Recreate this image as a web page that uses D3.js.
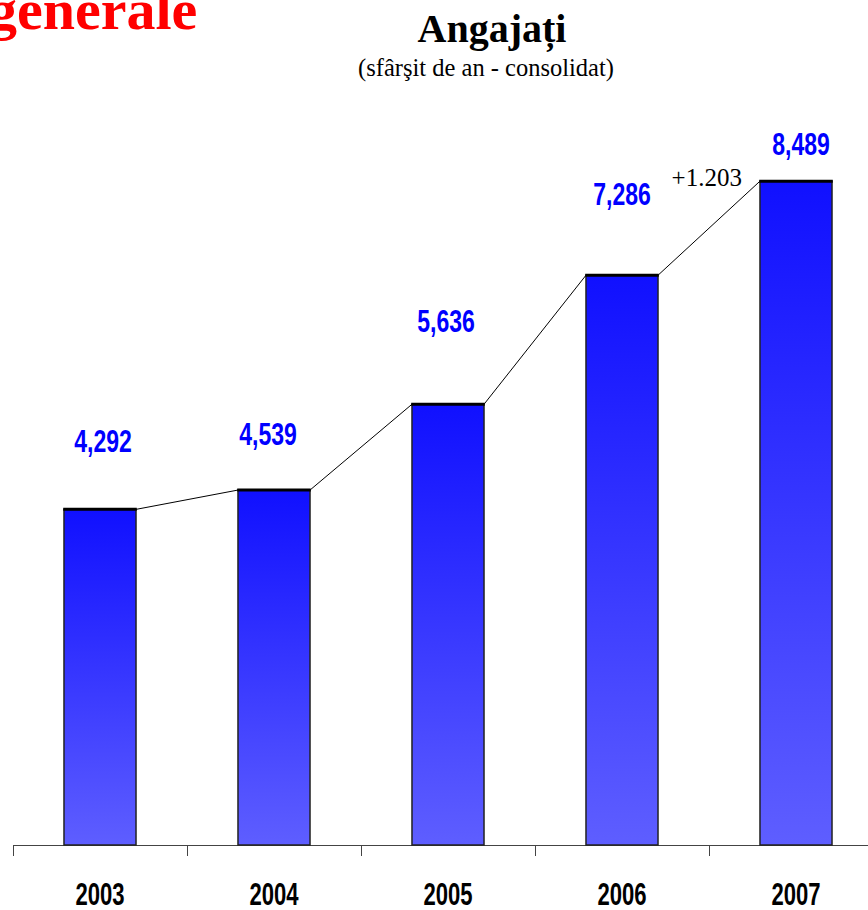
<!DOCTYPE html>
<html>
<head>
  <meta charset="utf-8">
  <title>Angajati</title>
  <style>
    body { margin: 0; background: #fff; overflow: hidden; }
    .narrow { font-family: "Liberation Sans Narrow", "Arial Narrow", "Liberation Sans", Arial, sans-serif; font-weight: bold; }
    .serif { font-family: "Liberation Serif", "Times New Roman", serif; }
  </style>
</head>
<body>
<svg id="chart" width="868" height="910"></svg>
<script src="https://cdn.jsdelivr.net/npm/d3@7"></script>
<script>
// data
var years = ["2003", "2004", "2005", "2006", "2007"];
var employees = [4292, 4539, 5636, 7286, 8489];
var valueLabels = ["4,292", "4,539", "5,636", "7,286", "8,489"];

// labels were placed by hand in the original, so nudge them the same way
var labelLift = [57, 45, 72, 70, 26];
var labelShift = [3, -6, -2, 0, 5];
var squeeze = 0.72; // no narrow font installed, so squash the sans one

var svg = d3.select("#chart");

var defs = svg.append("defs");
var grad = defs.append("linearGradient")
    .attr("id", "barFill")
    .attr("x1", 0).attr("y1", 0).attr("x2", 0).attr("y2", 1);
grad.append("stop").attr("offset", "0%").attr("stop-color", "#1010ff");
grad.append("stop").attr("offset", "100%").attr("stop-color", "#5e5eff");

var x = d3.scaleBand().domain(years).range([13, 883])
    .paddingInner(0.586).paddingOuter(0.293);
var y = d3.scaleLinear().domain([0, 10000]).range([845, 63]);

// headings
svg.append("text").attr("class", "serif")
    .attr("x", -12).attr("y", 29)
    .attr("font-size", 58).attr("font-weight", "bold").attr("fill", "#ff0000")
    .text("generale");
svg.append("text").attr("class", "serif")
    .attr("x", 492).attr("y", 42).attr("text-anchor", "middle")
    .attr("font-size", 40).attr("font-weight", "bold").attr("fill", "#000")
    .text("Angajați");
svg.append("text").attr("class", "serif")
    .attr("x", 486).attr("y", 76).attr("text-anchor", "middle")
    .attr("font-size", 24.5).attr("fill", "#000")
    .text("(sfârşit de an - consolidat)");

// x axis: baseline and ticks on band boundaries
var axisY = y(0);
svg.append("line")
    .attr("x1", 13).attr("x2", 868).attr("y1", axisY + 0.5).attr("y2", axisY + 0.5)
    .attr("stroke", "#444").attr("stroke-width", 1);
svg.selectAll(".tick").data(d3.range(years.length + 1)).enter().append("line")
    .attr("class", "tick")
    .attr("x1", function(i) { return 13 + i * x.step() + 0.5; })
    .attr("x2", function(i) { return 13 + i * x.step() + 0.5; })
    .attr("y1", axisY).attr("y2", axisY + 11)
    .attr("stroke", "#444").attr("stroke-width", 1);

var rows = years.map(function(yr, i) { return {year: yr, v: employees[i], label: valueLabels[i], i: i}; });

// bars
svg.selectAll(".bar").data(rows).enter().append("rect")
    .attr("class", "bar")
    .attr("x", function(d) { return x(d.year); })
    .attr("y", function(d) { return y(d.v); })
    .attr("width", x.bandwidth())
    .attr("height", function(d) { return axisY - y(d.v); })
    .attr("fill", "url(#barFill)")
    .attr("stroke", "#222").attr("stroke-width", 1.5);

// connecting line through the bar tops
var pts = [];
rows.forEach(function(d) {
  pts.push([x(d.year), y(d.v)]);
  pts.push([x(d.year) + x.bandwidth(), y(d.v)]);
});
svg.append("path")
    .attr("d", d3.line()(pts))
    .attr("fill", "none").attr("stroke", "#000").attr("stroke-width", 1);

// thick top edges
svg.selectAll(".top").data(rows).enter().append("line")
    .attr("class", "top")
    .attr("x1", function(d) { return x(d.year) - 0.75; })
    .attr("x2", function(d) { return x(d.year) + x.bandwidth() + 0.75; })
    .attr("y1", function(d) { return y(d.v); })
    .attr("y2", function(d) { return y(d.v); })
    .attr("stroke", "#000").attr("stroke-width", 3);

// value labels
svg.selectAll(".val").data(rows).enter().append("text")
    .attr("class", "val narrow")
    .attr("transform", function(d) {
      var cx = x(d.year) + x.bandwidth() / 2 + labelShift[d.i];
      var cy = y(d.v) - labelLift[d.i];
      return "translate(" + cx + "," + cy + ") scale(" + squeeze + ",1)";
    })
    .attr("text-anchor", "middle")
    .attr("font-size", 32).attr("fill", "#0000ff")
    .text(function(d) { return d.label; });

// year labels
svg.selectAll(".yr").data(rows).enter().append("text")
    .attr("class", "yr narrow")
    .attr("transform", function(d) {
      return "translate(" + (x(d.year) + x.bandwidth() / 2) + ",905) scale(" + (squeeze - 0.03) + ",1)";
    })
    .attr("text-anchor", "middle")
    .attr("font-size", 32).attr("fill", "#000")
    .text(function(d) { return d.year; });

// growth over the last year
var n = employees.length;
var delta = employees[n - 1] - employees[n - 2];
svg.append("text").attr("class", "serif")
    .attr("x", x(years[n - 1]) - 18).attr("y", y(employees[n - 1]) + 5)
    .attr("text-anchor", "end")
    .attr("font-size", 25).attr("fill", "#000")
    .text("+" + d3.format(",")(delta).replace(",", "."));
</script>
</body>
</html>
